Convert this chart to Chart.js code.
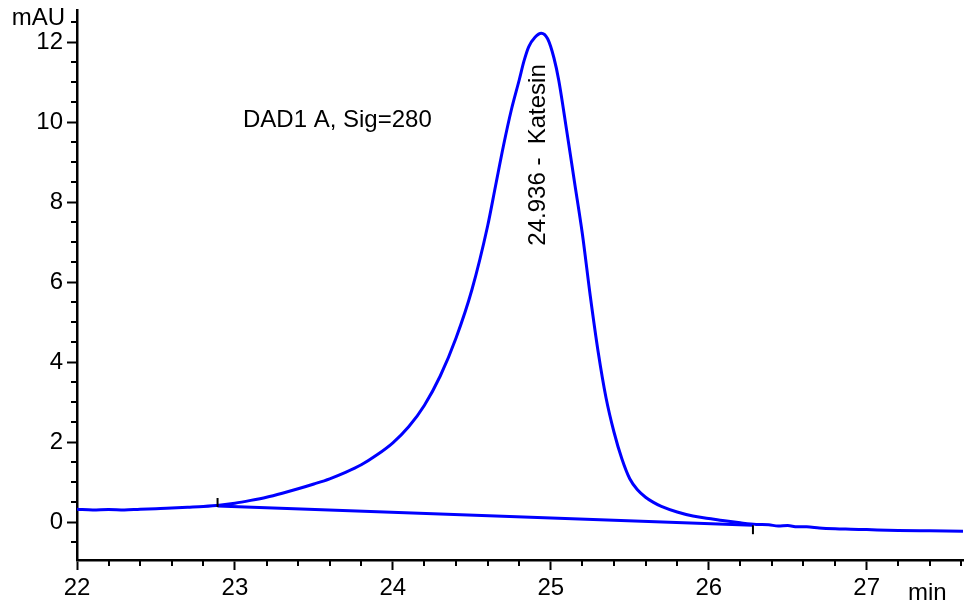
<!DOCTYPE html>
<html><head><meta charset="utf-8">
<script src="https://cdn.jsdelivr.net/npm/chart.js@4/dist/chart.umd.min.js"></script>
<style>html,body{margin:0;padding:0;background:#fff}#wrap{width:964px;height:610px;position:relative}</style>
</head><body><div id="wrap"><canvas id="c"></canvas></div>
<script>
// Retention time (min) and detector signal (mAU)
const timeMin = [22.00,22.10,22.20,22.30,22.40,22.50,22.60,22.70,22.80,22.90,23.00,23.10,23.20,23.30,23.40,23.50,23.60,23.70,23.80,23.90,24.00,24.10,24.20,24.30,24.40,24.50,24.60,24.65,24.70,24.75,24.80,24.83,24.86,24.90,24.94,24.98,25.02,25.05,25.10,25.15,25.20,25.25,25.30,25.35,25.40,25.45,25.50,25.55,25.60,25.65,25.70,25.80,25.90,26.00,26.10,26.20,26.30,26.38,26.44,26.50,26.56,26.62,26.70,26.80,26.90,27.00,27.20,27.40,27.61];
const signalMAU = [0.32,0.30,0.31,0.30,0.32,0.33,0.35,0.37,0.39,0.42,0.47,0.54,0.62,0.72,0.83,0.95,1.08,1.24,1.43,1.68,1.98,2.38,2.92,3.65,4.60,5.80,7.40,8.40,9.40,10.30,11.05,11.52,11.88,12.12,12.22,12.08,11.60,11.05,9.80,8.50,7.20,5.65,4.25,3.10,2.25,1.58,1.08,0.80,0.62,0.49,0.39,0.25,0.15,0.09,0.03,-0.02,-0.06,-0.07,-0.10,-0.09,-0.12,-0.12,-0.15,-0.17,-0.18,-0.19,-0.21,-0.22,-0.23];
// Integration baseline (start / end)
const baselineTime = [22.89, 26.28];
const baselineMAU = [0.40, -0.08];
// Tick labels
const xTickLabels = ['22','23','24','25','26','27'];
const yTickLabels = ['0','2','4','6','8','10','12'];
// Annotations
const peakTime = 24.936;
const peakMAU = 12.22;
const peakName = 'Katesin';
const signalName = 'DAD1 A, Sig=280';
const xUnit = 'min';
const yUnit = 'mAU';

const FONT = '"Liberation Sans", Arial, sans-serif';

const extras = {
  id: 'extras',
  afterDraw(chart) {
    const ctx = chart.ctx;
    const xs = chart.scales.x, ys = chart.scales.y;
    const ca = chart.chartArea;
    ctx.save();
    ctx.strokeStyle = '#000';
    ctx.lineWidth = 2;
    // minor x ticks every 0.2 min
    for (let i = 0; i <= 28; i++) {
      if (i % 5 === 0) continue;
      const v = 22 + i * 0.2;
      if (v > xs.max) break;
      const px = Math.round(xs.getPixelForValue(v));
      ctx.beginPath(); ctx.moveTo(px, ca.bottom); ctx.lineTo(px, ca.bottom + 6); ctx.stroke();
    }
    // minor y ticks every 0.5
    for (let i = -1; i <= 25; i++) {
      if (i % 4 === 0) continue;
      const v = i * 0.5;
      if (v < ys.min || v > ys.max) continue;
      const py = Math.round(ys.getPixelForValue(v));
      ctx.beginPath(); ctx.moveTo(ca.left, py); ctx.lineTo(ca.left - 6, py); ctx.stroke();
    }
    // baseline markers
    const p0x = xs.getPixelForValue(baselineTime[0]), p0y = ys.getPixelForValue(baselineMAU[0]);
    ctx.beginPath(); ctx.moveTo(p0x, p0y - 8); ctx.lineTo(p0x, p0y + 1); ctx.stroke();
    const p1x = xs.getPixelForValue(baselineTime[1]), p1y = ys.getPixelForValue(baselineMAU[1]);
    ctx.beginPath(); ctx.moveTo(p1x, p1y); ctx.lineTo(p1x, p1y + 9); ctx.stroke();
    // texts
    ctx.fillStyle = '#000';
    ctx.font = '24px ' + FONT;
    ctx.textAlign = 'right'; ctx.textBaseline = 'alphabetic';
    ctx.fillText(yUnit, ca.left - 12, 25);
    ctx.textAlign = 'left';
    ctx.fillText(xUnit, 908, 600);
    ctx.fillText(signalName, 243, 127);
    // peak label rotated
    const px = xs.getPixelForValue(peakTime);
    const py = ys.getPixelForValue(peakMAU);
    ctx.save();
    ctx.translate(px - 2, py + 31);
    ctx.rotate(-Math.PI / 2);
    ctx.textAlign = 'right'; ctx.textBaseline = 'middle';
    ctx.fillText(peakTime.toFixed(3) + ' -  ' + peakName, 0, 0);
    ctx.restore();
    ctx.restore();
  }
};

new Chart(document.getElementById('c'), {
  type: 'line',
  data: {
    datasets: [
      {
        data: timeMin.map((t, i) => ({x: t, y: signalMAU[i]})),
        borderColor: '#0000ff', borderWidth: 3, pointRadius: 0,
        cubicInterpolationMode: 'monotone', fill: false
      },
      {
        data: baselineTime.map((t, i) => ({x: t, y: baselineMAU[i]})),
        borderColor: '#0000ff', borderWidth: 3, pointRadius: 0, tension: 0, fill: false
      }
    ]
  },
  options: {
    responsive: true, maintainAspectRatio: false, animation: false,
    devicePixelRatio: 1,
    layout: {padding: {top: 10, right: 1, left: 0, bottom: 0}},
    plugins: {legend: {display: false}, tooltip: {enabled: false}},
    scales: {
      x: {
        type: 'linear', min: 22, max: 27.61,
        afterFit(s) { s.height = 50; s.paddingLeft = 0; s.paddingRight = 0; },
        border: {display: true, color: '#000', width: 2.5},
        grid: {display: true, drawOnChartArea: false, drawTicks: true, tickLength: 10, tickColor: '#000', tickWidth: 2},
        ticks: {
          stepSize: 1, includeBounds: false, autoSkip: false, maxRotation: 0,
          color: '#000', font: {family: FONT, size: 24}, padding: 4,
          callback: (v) => xTickLabels.includes(String(v)) ? String(v) : ''
        }
      },
      y: {
        type: 'linear', min: -0.95, max: 12.8,
        afterFit(s) { s.width = 77; s.paddingTop = 0; s.paddingBottom = 0; },
        border: {display: true, color: '#000', width: 2.5},
        grid: {display: true, drawOnChartArea: false, drawTicks: true, tickLength: 10, tickColor: '#000', tickWidth: 2},
        ticks: {
          stepSize: 2, includeBounds: false, autoSkip: false,
          color: '#000', font: {family: FONT, size: 24}, padding: 4,
          callback: (v) => yTickLabels.includes(String(v)) ? String(v) : ''
        }
      }
    }
  },
  plugins: [extras]
});
</script>
</body></html>
